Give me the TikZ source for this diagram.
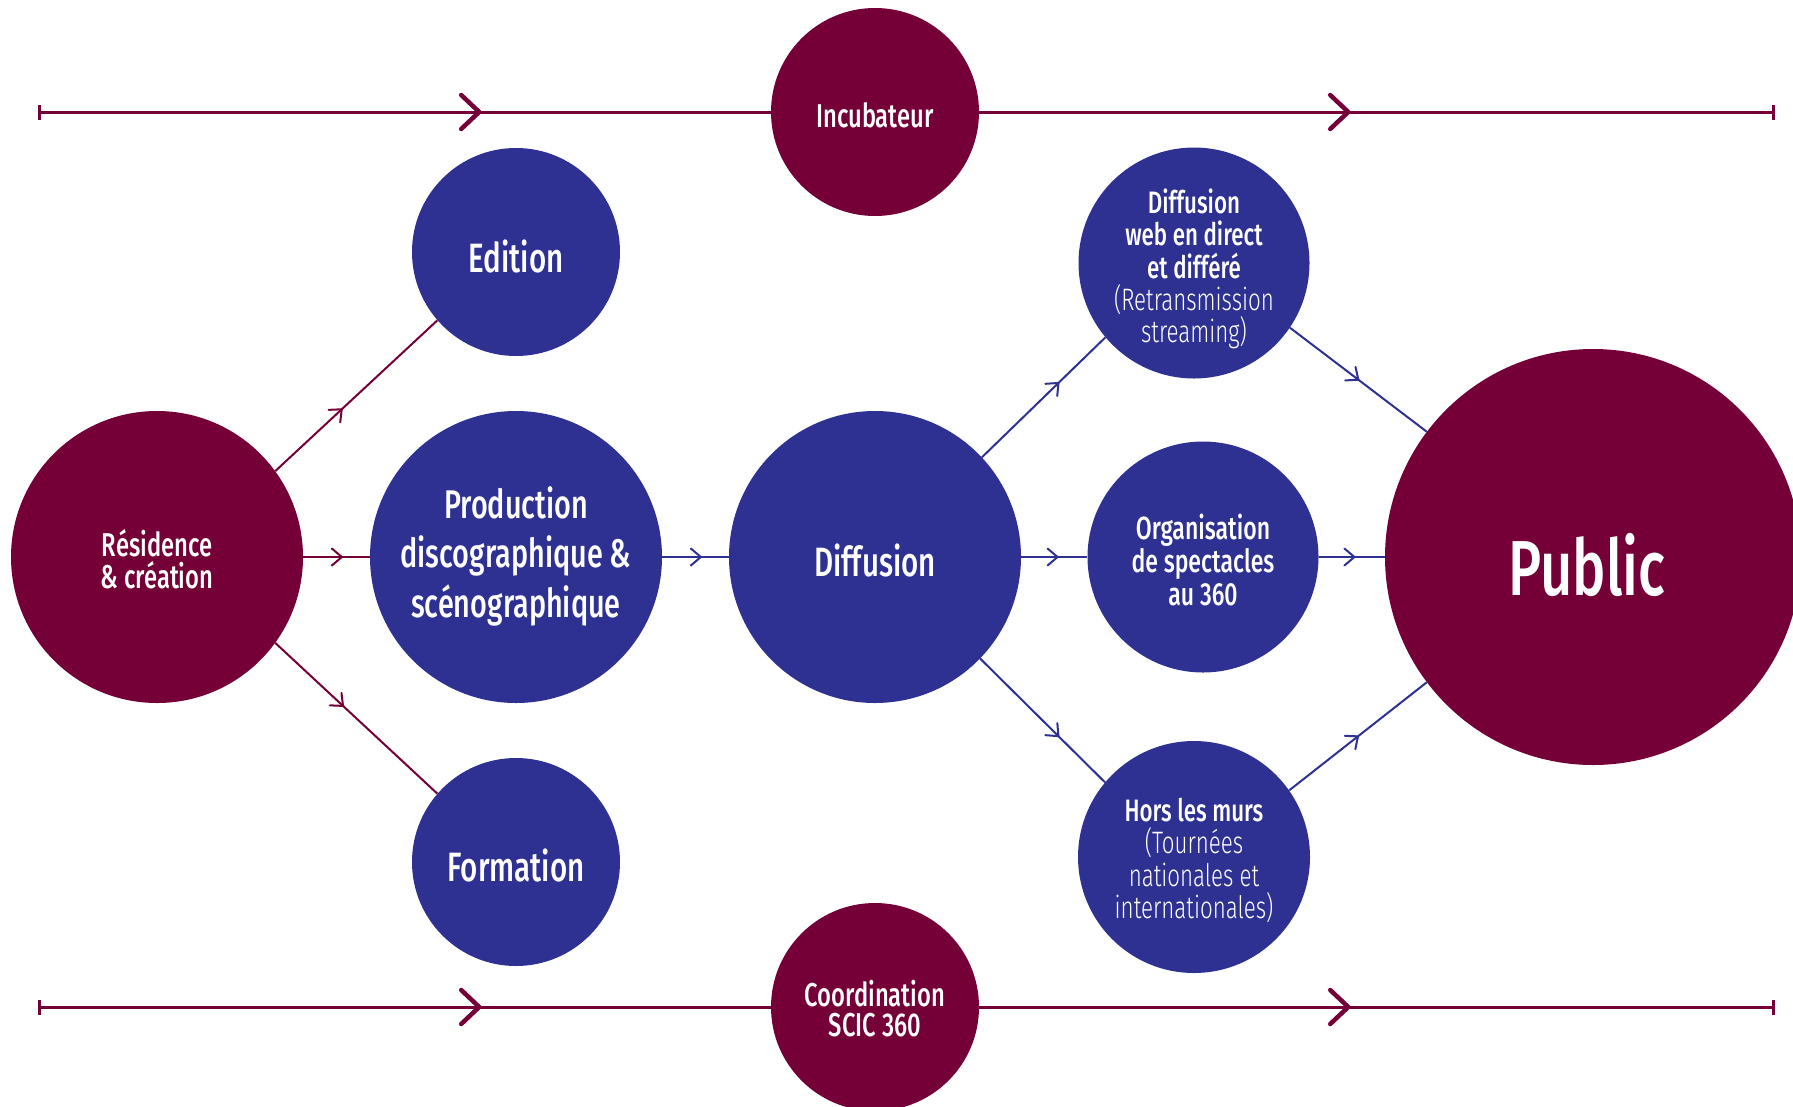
\documentclass[tikz,border=0pt]{standalone}
\usepackage{fontspec}
\newfontfamily\fmed{Fira Sans Medium}[FakeStretch=0.72]
\newfontfamily\flgt{Fira Sans Light}[FakeStretch=0.72]
\usetikzlibrary{arrows.meta,decorations.markings,backgrounds}
\definecolor{mar}{HTML}{750037}
\definecolor{blu}{HTML}{2E3192}
\newcommand\chevmark{\draw[arrows=-, line width=4.5pt, line cap=round, line join=round] (-18pt,17pt) -- (0pt,0pt) -- (-18pt,-17pt);}
\newcommand\smallchev{\draw[arrows=-, line width=2pt, line cap=round, line join=round] (-10pt,8.5pt) -- (0pt,0pt) -- (-10pt,-8.5pt);}
\tikzset{
  bub/.style={circle, draw=none, inner sep=0pt, minimum size=#1},
  txt/.style={text=white, align=center, inner sep=0pt},
  conn/.style={line width=2pt,
    postaction={decorate, decoration={markings, mark=at position #1 with {\smallchev}}}},
  axisline/.style={mar, line width=3pt, arrows={Bar[width=15pt]-Bar[width=15pt]},
    postaction={decorate, decoration={markings,
      mark=at position 0.2540 with {\chevmark},
      mark=at position 0.7543 with {\chevmark}}}},
}
\begin{document}
\begin{tikzpicture}[x=1pt, y=-1pt]
\useasboundingbox (0,0) rectangle (1793,1106);
% circles
\node[bub=208pt, fill=mar] (inc) at (875,112) {};
\node[bub=208pt, fill=blu] (edi) at (516,252) {};
\node[bub=292pt, fill=mar] (res) at (157,557) {};
\node[bub=292pt, fill=blu] (pro) at (516,557) {};
\node[bub=292pt, fill=blu] (dif) at (875,557) {};
\node[bub=208pt, fill=blu] (for) at (516,862) {};
\node[bub=208pt, fill=mar] (coo) at (875,1007) {};
\node[bub=231pt, fill=blu] (web) at (1194,263) {};
\node[bub=231pt, fill=blu] (org) at (1203,557) {};
\node[bub=232pt, fill=blu] (hor) at (1194,857) {};
\node[bub=416pt, fill=mar] (pub) at (1593,557) {};
% texts
\node[txt, font=\fontsize{33}{33}\fmed] (inct) at (875,115.5) {Incubateur};
\node[txt, font=\fontsize{33}{31.5}\fmed] (rest) at (157,559) {Résidence\\\& création};
\node[txt, font=\fontsize{41}{41}\fmed] (edit) at (516,256) {Edition};
\node[txt, font=\fontsize{40}{49.5}\fmed] (prot) at (516,556) {Production\\discographique \&\\scénographique};
\node[txt, font=\fontsize{41}{41}\fmed] (dift) at (875,560) {Diffusion};
\node[txt, font=\fontsize{41}{41}\fmed] (fort) at (516,865.5) {Formation};
\node[txt, font=\fontsize{78}{78}\fmed] (pubt) at (1587,564.5) {Public};
\node[txt, font=\fontsize{31}{32.4}\fmed] (webt) at (1194,269) {Diffusion\\web en direct\\et différé\\\flgt(Retransmission\\\flgt streaming)};
\node[txt, font=\fontsize{32}{33}\fmed] (orgt) at (1203,559.5) {Organisation\\de spectacles\\au 360};
\node[txt, font=\fontsize{31}{32.6}\fmed] (hort) at (1194,860.5) {Hors les murs\\\flgt(Tournées\\\flgt nationales et\\\flgt internationales)};
\node[txt, font=\fontsize{33}{30.5}\fmed] (coot) at (875,1008.5) {Coordination\\SCIC 360};
% lines behind
\begin{scope}[on background layer]
\fill[white] (0,0) rectangle (1793,1106);
\coordinate (tl) at (38,112);
\coordinate (tr) at (1775,112);
\coordinate (bl) at (38,1007);
\coordinate (br) at (1775,1007);
\draw[axisline] (tl) -- (inc.center) -- (tr);
\draw[axisline] (bl) -- (coo.center) -- (br);
\end{scope}
\draw[mar, conn=0.41] (res.36) -- (edi.221.5);
\draw[mar, conn=0.58] (res.0) -- (pro.180);
\draw[mar, conn=0.418] (res.-36) -- (for.139);
\draw[blu, conn=0.58] (pro.0) -- (dif.180);
\draw[blu, conn=0.62] (dif.43.6) -- (web.220);
\draw[blu, conn=0.55] (dif.0) -- (org.180);
\draw[blu, conn=0.627] (dif.-44) -- (hor.140.5);
\draw[blu, conn=0.50] (web.-34) -- (pub.143);
\draw[blu, conn=0.54] (org.0) -- (pub.180);
\draw[blu, conn=0.50] (hor.35) -- (pub.217);
\end{tikzpicture}
\end{document}
